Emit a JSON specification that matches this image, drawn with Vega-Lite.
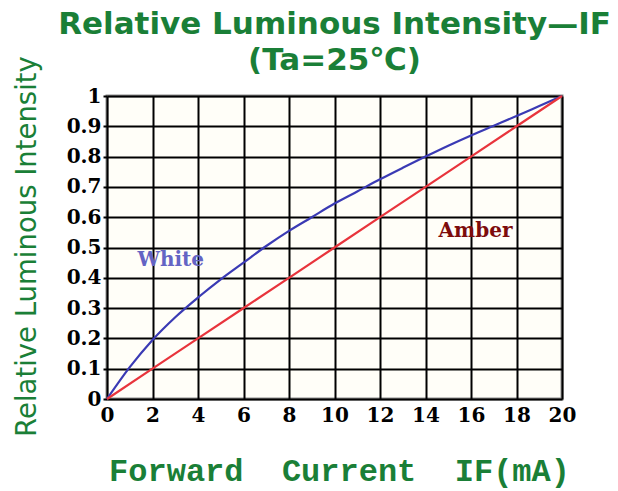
{
  "$schema": "https://vega.github.io/schema/vega-lite/v6.json",
  "width": 455,
  "height": 303,
  "autosize": "none",
  "padding": {"left": 107, "top": 96, "right": 56, "bottom": 92},
  "background": "white",
  "title": {
    "text": ["Relative Luminous Intensity—IF", "(Ta=25℃)"],
    "font": "DejaVu Sans",
    "fontWeight": "bold",
    "fontSize": 31,
    "color": "#1a7f37",
    "lineHeight": 36,
    "anchor": "middle",
    "offset": -21
  },
  "config": {
    "view": {"stroke": "#8c8c8c", "strokeWidth": 3, "fill": "#fffef8"}
  },
  "datasets": {
    "curves": [
      {"current": 0, "intensity": 0, "series": "White"},
      {"current": 1, "intensity": 0.105, "series": "White"},
      {"current": 2, "intensity": 0.195, "series": "White"},
      {"current": 3, "intensity": 0.27, "series": "White"},
      {"current": 4, "intensity": 0.335, "series": "White"},
      {"current": 5, "intensity": 0.395, "series": "White"},
      {"current": 6, "intensity": 0.45, "series": "White"},
      {"current": 7, "intensity": 0.505, "series": "White"},
      {"current": 8, "intensity": 0.555, "series": "White"},
      {"current": 9, "intensity": 0.6, "series": "White"},
      {"current": 10, "intensity": 0.645, "series": "White"},
      {"current": 11, "intensity": 0.685, "series": "White"},
      {"current": 12, "intensity": 0.725, "series": "White"},
      {"current": 13, "intensity": 0.763, "series": "White"},
      {"current": 14, "intensity": 0.8, "series": "White"},
      {"current": 15, "intensity": 0.836, "series": "White"},
      {"current": 16, "intensity": 0.87, "series": "White"},
      {"current": 17, "intensity": 0.902, "series": "White"},
      {"current": 18, "intensity": 0.934, "series": "White"},
      {"current": 19, "intensity": 0.967, "series": "White"},
      {"current": 20, "intensity": 1, "series": "White"},
      {"current": 0, "intensity": 0, "series": "Amber"},
      {"current": 4, "intensity": 0.2, "series": "Amber"},
      {"current": 8, "intensity": 0.4, "series": "Amber"},
      {"current": 12, "intensity": 0.6, "series": "Amber"},
      {"current": 16, "intensity": 0.8, "series": "Amber"},
      {"current": 20, "intensity": 1, "series": "Amber"}
    ],
    "labels": [
      {"current": 2.8, "intensity": 0.46, "label": "White"},
      {"current": 16.2, "intensity": 0.555, "label": "Amber"}
    ]
  },
  "encoding": {
    "x": {
      "field": "current",
      "type": "quantitative",
      "scale": {"domain": [0, 20], "nice": false, "zero": true},
      "axis": {
        "values": [0, 2, 4, 6, 8, 10, 12, 14, 16, 18, 20],
        "grid": true,
        "gridColor": "#000000",
        "gridWidth": 2,
        "gridOpacity": 1,
        "domain": false,
        "ticks": false,
        "labelFont": "DejaVu Serif",
        "labelFontWeight": "bold",
        "labelFontSize": 20,
        "labelColor": "#000000",
        "labelPadding": 6,
        "labelFlush": false,
        "title": "Forward\u00a0 Current\u00a0 IF(mA)",
        "titleFont": "Liberation Mono",
        "titleFontWeight": "bold",
        "titleFontSize": 32,
        "titleColor": "#1a7f37",
        "titleX": 232,
        "titleY": 71,
        "titleAlign": "center",
        "titleBaseline": "middle"
      }
    },
    "y": {
      "field": "intensity",
      "type": "quantitative",
      "scale": {"domain": [0, 1], "nice": false},
      "axis": {
        "values": [0, 0.1, 0.2, 0.3, 0.4, 0.5, 0.6, 0.7, 0.8, 0.9, 1],
        "format": ".1~f",
        "grid": true,
        "gridColor": "#000000",
        "gridWidth": 2,
        "gridOpacity": 1,
        "domain": false,
        "ticks": true,
        "tickColor": "#000000",
        "tickWidth": 2,
        "tickSize": 4,
        "labelFont": "DejaVu Serif",
        "labelFontWeight": "bold",
        "labelFontSize": 20,
        "labelColor": "#000000",
        "labelPadding": 2,
        "labelFlush": false,
        "title": "Relative Luminous Intensity",
        "titleFont": "DejaVu Sans",
        "titleFontWeight": "normal",
        "titleFontSize": 27.5,
        "titleColor": "#1a7f37",
        "titleX": -80,
        "titleY": 150,
        "titleAngle": -90,
        "titleAlign": "center",
        "titleBaseline": "middle"
      }
    }
  },
  "layer": [
    {
      "data": {"name": "curves"},
      "mark": {"type": "line", "strokeWidth": 2.2, "interpolate": "monotone"},
      "encoding": {
        "color": {
          "field": "series",
          "type": "nominal",
          "scale": {"domain": ["White", "Amber"], "range": ["#3a3ab4", "#e8343c"]},
          "legend": null
        }
      }
    },
    {
      "data": {"name": "labels"},
      "transform": [{"filter": "datum.label === 'White'"}],
      "mark": {"type": "text", "font": "DejaVu Serif", "fontWeight": "bold", "fontSize": 20, "color": "#6464c4", "align": "center", "baseline": "middle"},
      "encoding": {"text": {"field": "label"}}
    },
    {
      "data": {"name": "labels"},
      "transform": [{"filter": "datum.label === 'Amber'"}],
      "mark": {"type": "text", "font": "DejaVu Serif", "fontWeight": "bold", "fontSize": 20, "color": "#7d0c0c", "align": "center", "baseline": "middle"},
      "encoding": {"text": {"field": "label"}}
    }
  ]
}
